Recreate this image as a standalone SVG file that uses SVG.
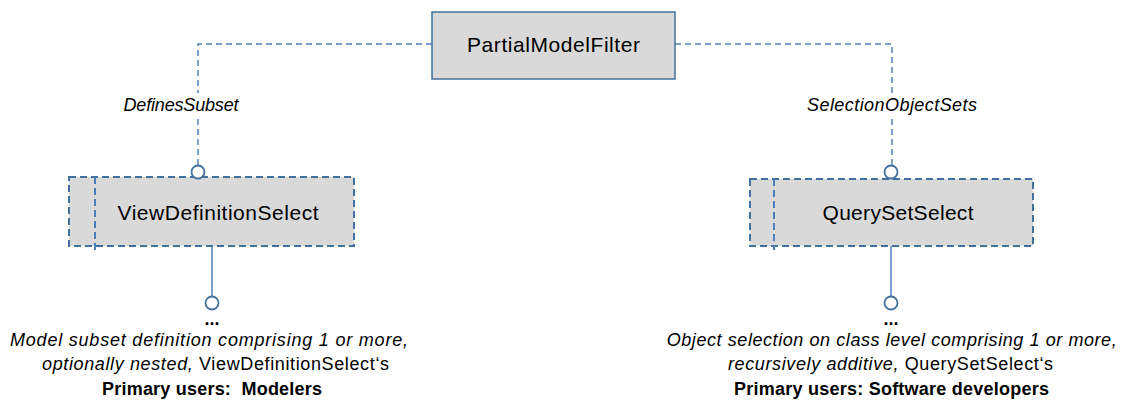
<svg xmlns="http://www.w3.org/2000/svg" width="1122" height="401" viewBox="0 0 1122 401">
<style>
.bg{fill:#ffffff}
.node{fill:#d9d9d9;stroke:#41719c;stroke-width:1.5}
.dnode{fill:#d9d9d9;stroke:#41719c;stroke-width:2;stroke-dasharray:7,4}
.inner{fill:none;stroke:#4a7ebb;stroke-width:2;stroke-dasharray:7,4}
.dash{fill:none;stroke:#4f81bd;stroke-width:1.5;stroke-dasharray:6,4}
.solid{fill:none;stroke:#4f81bd;stroke-width:1.5}
.port{fill:#ffffff;stroke:#41719c;stroke-width:1.8}
.name{font-family:"Liberation Sans",Arial,sans-serif;font-size:21px;fill:#000;text-anchor:middle}
.lbl{font-family:"Liberation Sans",Arial,sans-serif;font-size:18px;font-style:italic;fill:#000;text-anchor:middle}
.desc{font-family:"Liberation Sans",Arial,sans-serif;font-size:18px;fill:#000;text-anchor:middle}
.it{font-style:italic}
.b{font-weight:bold}
</style>
<rect class="bg" x="0" y="0" width="1122" height="401"/>
<g id="connectors">
  <polyline class="dash" points="432,44 198,44 198,93"/>
  <line class="dash" x1="198" y1="119" x2="198" y2="165"/>
  <polyline class="dash" points="675,44 892,44 892,93"/>
  <line class="dash" x1="892" y1="119" x2="892" y2="165"/>
  <line class="solid" x1="212" y1="246" x2="212" y2="296"/>
  <line class="solid" x1="891" y1="246" x2="891" y2="296"/>
  <text class="lbl" x="181" y="111" textLength="115">DefinesSubset</text>
  <text class="lbl" x="892" y="111" textLength="170">SelectionObjectSets</text>
</g>
<g id="PartialModelFilter">
  <rect class="node" x="432" y="12" width="243" height="67"/>
  <text class="name" x="553.5" y="51.5" textLength="173">PartialModelFilter</text>
</g>
<g id="ViewDefinitionSelect">
  <rect class="dnode" x="69" y="177" width="285" height="69"/>
  <line class="inner" x1="95" y1="177" x2="95" y2="250"/>
  <text class="name" x="218" y="219.5" textLength="201">ViewDefinitionSelect</text>
  <circle class="port" cx="198" cy="172" r="6.5"/>
  <circle class="port" cx="212" cy="303" r="6.5"/>
</g>
<g id="QuerySetSelect">
  <rect class="dnode" x="750" y="179" width="283" height="67"/>
  <line class="inner" x1="774" y1="179" x2="774" y2="250"/>
  <text class="name" x="898" y="219.5" textLength="151">QuerySetSelect</text>
  <circle class="port" cx="891" cy="172" r="6.5"/>
  <circle class="port" cx="891" cy="303" r="6.5"/>
</g>
<g id="ViewDefinitionSelect-desc">
  <text class="desc b" x="212" y="325">...</text>
  <text class="desc it" x="209" y="346" textLength="398">Model subset definition comprising 1 or more,</text>
  <text class="desc" x="215.5" y="370" textLength="347"><tspan class="it">optionally nested,</tspan> ViewDefinitionSelect‘s</text>
  <text class="desc b" x="212" y="395" textLength="220">Primary users:&#160; Modelers</text>
</g>
<g id="QuerySetSelect-desc">
  <text class="desc b" x="891" y="325">...</text>
  <text class="desc it" x="891.7" y="346" textLength="450">Object selection on class level comprising 1 or more,</text>
  <text class="desc" x="890.5" y="370" textLength="325"><tspan class="it">recursively additive,</tspan> QuerySetSelect‘s</text>
  <text class="desc b" x="891.5" y="395" textLength="315">Primary users: Software developers</text>
</g>
</svg>
